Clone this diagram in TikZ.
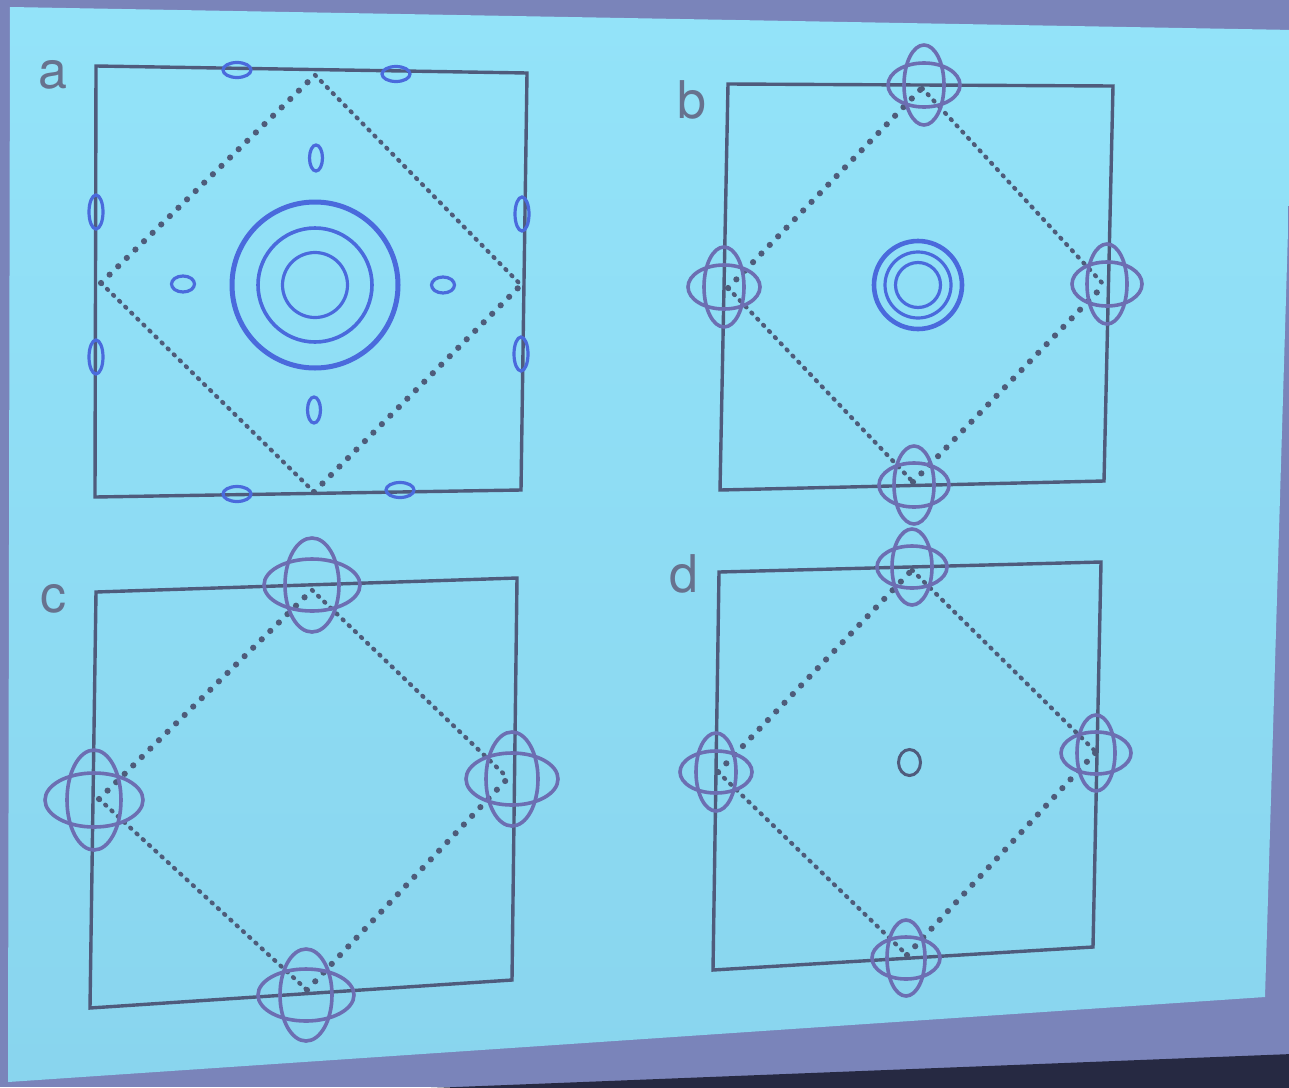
\documentclass[tikz,border=0pt]{standalone}
\usepackage{fontspec}
\setmainfont{TeX Gyre Heros}
\definecolor{frame}{HTML}{7A84BA}
\definecolor{darkedge}{HTML}{262942}
\definecolor{slidetop}{HTML}{93E3F9}
\definecolor{slidebot}{HTML}{89D5EE}
\definecolor{boxcol}{HTML}{4F5B7C}
\definecolor{dotcol}{HTML}{4E5C7A}
\definecolor{cluscol}{HTML}{6C6EB2}
\definecolor{ringcol}{HTML}{4A6ADC}
\definecolor{lblcol}{HTML}{67728E}
\newcommand{\petals}[6]{%
  \draw[clus] (#1,#2) ellipse [x radius=#3pt, y radius=#4pt];
  \draw[clus] (#1,#2) ellipse [x radius=#5pt, y radius=#6pt];}
\begin{document}
\begin{tikzpicture}[x=1pt,y=-1pt,
  boxline/.style={draw=boxcol, line width=3.4pt, line join=miter},
  bigdots/.style={draw=dotcol, line width=6.2pt, line cap=round, dash pattern=on 0pt off 12pt},
  finedots/.style={draw=dotcol, line width=4.3pt, line cap=round, dash pattern=on 1.2pt off 7.3pt},
  clus/.style={draw=cluscol, line width=3.6pt},
  ring/.style={draw=ringcol, line width=3.2pt},
  lbl/.style={text=lblcol, font=\fontsize{52}{60}\selectfont, inner sep=0pt}]
\useasboundingbox (0,0) rectangle (1289,1087);
\clip (0,0) rectangle (1289,1087);
% screen surroundings
\fill[frame] (0,0) rectangle (1289,1087);
\fill[darkedge] (380,1090) -- (1292,1054) -- (1292,1090) -- cycle;
\shade[top color=slidetop, bottom color=slidebot] (10,7) -- (1294,30) -- (1265,997) -- (8,1082) -- cycle;

% ---------- panel a ----------
\node[lbl] (la) at (53,75) {a};
\draw[boxline] (96,66) -- (527,73) -- (521,490) -- (95,497) -- cycle;
\draw[bigdots] (101,283) -- (315,75);
\draw[finedots] (315,75) -- (521,285);
\draw[finedots] (101,283) -- (314,492);
\draw[bigdots] (314,492) -- (521,285);
\draw[ring, line width=5pt] (315,285) circle [radius=83pt];
\draw[ring, line width=3.6pt] (315,285) circle [radius=57pt];
\draw[ring] (315,285) circle [radius=32.5pt];
\draw[ring] (316,158) ellipse [x radius=6.5pt, y radius=13pt];
\draw[ring] (314,410) ellipse [x radius=6.5pt, y radius=13pt];
\draw[ring] (183,284) ellipse [x radius=11.5pt, y radius=8pt];
\draw[ring] (443,285) ellipse [x radius=11.5pt, y radius=8pt];
\draw[ring] (237,70) ellipse [x radius=14pt, y radius=7.5pt];
\draw[ring] (396,74) ellipse [x radius=14pt, y radius=7.5pt];
\draw[ring] (237,494) ellipse [x radius=14pt, y radius=7.5pt];
\draw[ring] (400,490) ellipse [x radius=14pt, y radius=7.5pt];
\draw[ring] (96,212) ellipse [x radius=7pt, y radius=17pt];
\draw[ring] (96,357) ellipse [x radius=7pt, y radius=17pt];
\draw[ring] (522,214) ellipse [x radius=7pt, y radius=17pt];
\draw[ring] (521,354) ellipse [x radius=7pt, y radius=17pt];

% ---------- panel b ----------
\node[lbl] (lb) at (692,100) {b};
\draw[boxline] (728,84) -- (1113,86) -- (1104,481) -- (720,490) -- cycle;
\draw[bigdots] (728,288) -- (922,88);
\draw[finedots] (922,88) -- (1104,285);
\draw[finedots] (728,288) -- (913,482);
\draw[bigdots] (913,482) -- (1104,285);
\draw[ring, line width=4.6pt] (918,285) circle [radius=44pt];
\draw[ring] (918,285) circle [radius=33pt];
\draw[ring] (918,285) circle [radius=22.5pt];
\petals{924}{85}{36}{22}{20}{40}
\petals{724}{287}{36}{22}{20}{40}
\petals{1107}{284}{35}{22}{20}{40}
\petals{914}{485}{35}{22}{20}{39}

% ---------- panel c ----------
\node[lbl] (lc) at (53,599) {c};
\draw[boxline] (96,592) -- (517,578) -- (512,980) -- (90,1008) -- cycle;
\draw[bigdots] (99,799) -- (312,590);
\draw[finedots] (312,590) -- (508,778);
\draw[finedots] (99,799) -- (307,990);
\draw[bigdots] (307,990) -- (508,778);
\petals{312}{585}{48}{26}{27}{47}
\petals{94}{800}{49}{27}{27}{50}
\petals{512}{779}{46}{26}{26}{47}
\petals{306}{995}{48}{26}{26}{46}

% ---------- panel d ----------
\node[lbl] (ld) at (684,574) {d};
\draw[boxline] (719,572) -- (1101,562) -- (1093,947) -- (713,970) -- cycle;
\draw[bigdots] (718,772) -- (912,570);
\draw[finedots] (912,570) -- (1096,752);
\draw[finedots] (718,772) -- (907,955);
\draw[bigdots] (907,955) -- (1096,752);
\draw[draw=boxcol, line width=3pt] (909.5,762.5) ellipse [x radius=11pt, y radius=13pt];
\petals{912}{567}{35}{21}{20}{38}
\petals{716}{772}{36}{21}{20}{39}
\petals{1096}{753}{35}{21}{19}{38}
\petals{906}{958}{34}{21}{19}{38}
\end{tikzpicture}
\end{document}
